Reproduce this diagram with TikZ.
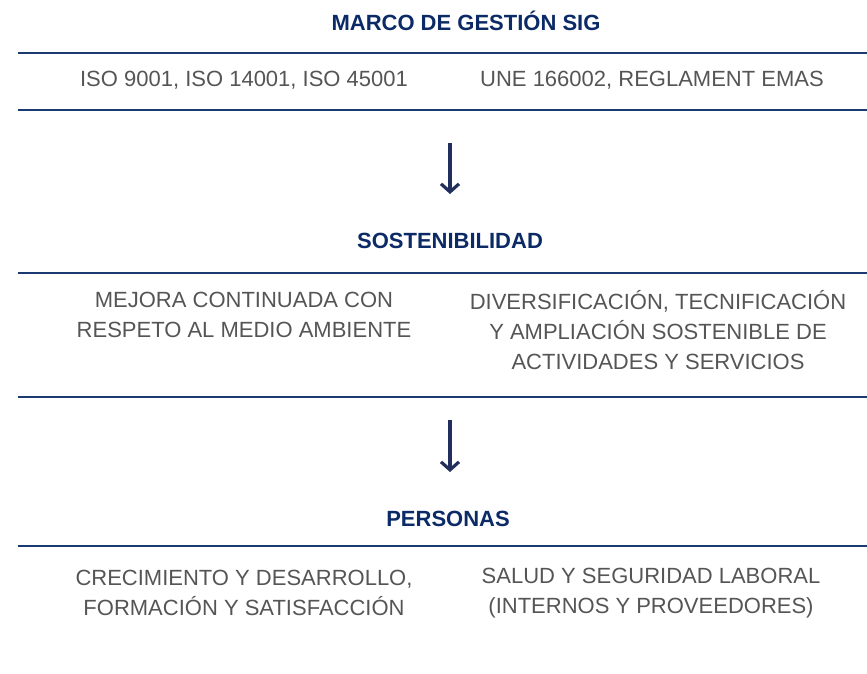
\documentclass[tikz,border=0pt]{standalone}
\usepackage{fontspec}
\setmainfont{Liberation Sans}
\usetikzlibrary{positioning,arrows.meta}
\definecolor{navy}{HTML}{0B2A66}
\definecolor{rulecol}{HTML}{1B3A72}
\definecolor{arrowcol}{HTML}{222F5E}
\definecolor{textgray}{HTML}{555555}
\tikzset{
  head/.style={font=\fontsize{22}{26}\selectfont\bfseries, text=navy},
  body/.style={font=\fontsize{22}{30}\selectfont, text=textgray, align=center},
  rulel/.style={rulecol, line width=2pt},
  flow/.style={arrowcol, line width=3.2pt, -{Straight Barb[length=8pt,width=18pt]}}
}
\begin{document}
\begin{tikzpicture}[x=1pt,y=-1pt]
\useasboundingbox (0,0) rectangle (867,673);
% marco
\node[head] (marco) at (466,21) {MARCO DE GESTIÓN SIG};
\draw[rulel] (18,53) -- (867,53);
\node[body] (iso) at (244,80) {ISO 9001, ISO 14001, ISO 45001};
\node[body] (une) at (652,80) {UNE 166002, REGLAMENT EMAS};
\draw[rulel] (18,110) -- (867,110);
\coordinate (a1) at (450,143);
\coordinate (b1) at (450,194);
\draw[flow] (a1) -- (b1);
% sostenibilidad
\node[head] (sost) at (450,241) {SOSTENIBILIDAD};
\draw[rulel] (18,273) -- (867,273);
\node[body] (mejora) at (244,315) {MEJORA CONTINUADA CON\\RESPETO AL MEDIO AMBIENTE};
\node[body] (divers) at (658,330) {DIVERSIFICACIÓN, TECNIFICACIÓN\\Y AMPLIACIÓN SOSTENIBLE DE\\ACTIVIDADES Y SERVICIOS};
\draw[rulel] (18,397) -- (867,397);
\coordinate (a2) at (450,420);
\coordinate (b2) at (450,472);
\draw[flow] (a2) -- (b2);
% personas
\node[head] (pers) at (448,519) {PERSONAS};
\draw[rulel] (18,546) -- (867,546);
\node[body] (crec) at (244,593) {CRECIMIENTO Y DESARROLLO,\\FORMACIÓN Y SATISFACCIÓN};
\node[body] (salud) at (651,593) {SALUD Y SEGURIDAD LABORAL\\(INTERNOS Y PROVEEDORES)};
\end{tikzpicture}
\end{document}
